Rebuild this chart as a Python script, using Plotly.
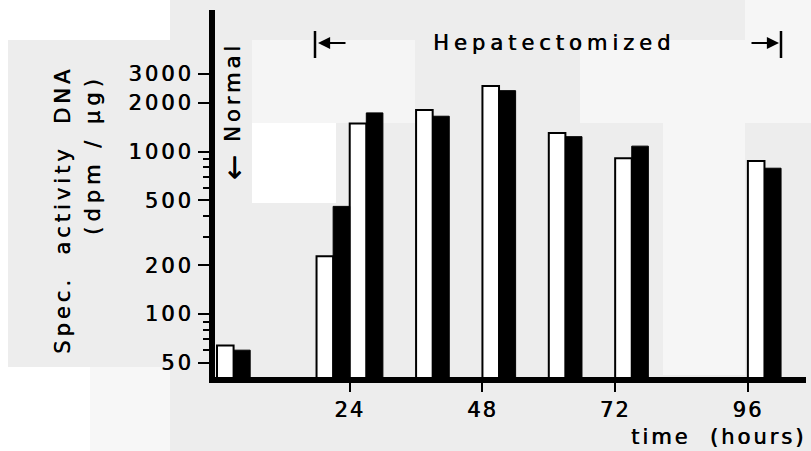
import math
import plotly.graph_objects as go

# ---- data ----
times = [0, 18, 24, 36, 48, 60, 72, 96]          # hours
white_vals = [64, 227, 1490, 1800, 2530, 1300, 910, 875]
black_vals = [60, 460, 1730, 1650, 2370, 1235, 1080, 790]

y_major = [50, 100, 200, 500, 1000, 2000, 3000]
y_major_text = ["50", "100", "200", "500", "1000", "2000", "3000"]
y_minor = [60, 70, 80, 90, 300, 400, 600, 700, 800, 900]
x_ticks = [24, 48, 72, 96]
x_tick_text = ["24", "48", "72", "96"]

FONT = "DejaVu Sans"
SHADOW = "0.6px 0px 0px black"
L, R, T, B = 215, 5, 10, 74
W, H = 811, 451
PW, PH = W - L - R, H - T - B


def sp(text, px):
    return f'<span style="letter-spacing:{px}px">{text}</span>'


def px_x(p):
    return (p - L) / PW


def px_y(p):
    return (H - B - p) / PH


def hour(p):
    return (p - 217) / 5.53


def fnt(size):
    return dict(family=FONT, size=size, color="black", shadow=SHADOW)


fig = go.Figure()
fig.add_trace(go.Bar(
    x=times, y=white_vals, offset=0, width=3,
    marker=dict(color="white", line=dict(color="black", width=2)),
    showlegend=False, hoverinfo="x+y"))
fig.add_trace(go.Bar(
    x=times, y=black_vals, offset=3, width=3,
    marker=dict(color="black", line=dict(color="black", width=1)),
    showlegend=False, hoverinfo="x+y"))

fig.update_layout(
    width=W, height=H,
    margin=dict(l=L, r=R, t=T, b=B),
    paper_bgcolor="#ededed", plot_bgcolor="rgba(0,0,0,0)",
    barmode="overlay",
    font=fnt(20),
    xaxis=dict(
        range=[hour(L), hour(W - R)], tickmode="array", tickvals=x_ticks,
        ticktext=[sp(t, 2) for t in x_tick_text],
        ticks="outside", ticklen=9, tickwidth=2, tickcolor="black",
        showline=True, linewidth=6, linecolor="black",
        showgrid=False, zeroline=False,
        tickfont=fnt(21)),
    yaxis=dict(
        type="log", range=[1.613, 3.871],
        tickmode="array", tickvals=y_major,
        ticktext=[sp(t, 3) for t in y_major_text],
        ticks="outside", ticklen=11, tickwidth=2, tickcolor="black",
        minor=dict(tickmode="array", tickvals=y_minor, ticks="outside",
                   ticklen=6, tickwidth=2, tickcolor="black"),
        showline=True, linewidth=6, linecolor="black",
        showgrid=False, zeroline=False,
        tickfont=fnt(21)),
)

# background scan patches (pixel boxes)
patches = [
    (0, 0, 170, 40, "white"),
    (0, 0, 8, 451, "white"),
    (0, 367, 90, 451, "white"),
    (90, 367, 170, 451, "#f7f7f7"),
    (252, 40, 415, 123, "#f5f5f5"),
    (252, 123, 336, 203, "white"),
    (580, 40, 745, 123, "#f6f6f6"),
    (663, 123, 745, 375, "#f6f6f6"),
    (745, 0, 811, 123, "#f6f6f6"),
]
for x0, y0, x1, y1, c in patches:
    fig.add_shape(type="rect", xref="paper", yref="paper",
                  x0=px_x(x0), x1=px_x(x1), y0=px_y(y1), y1=px_y(y0),
                  fillcolor=c, line_width=0, layer="below")

# bracket bars of the "Hepatectomized" span
for bx in (315, 781):
    fig.add_shape(type="line", xref="x", yref="paper",
                  x0=hour(bx), x1=hour(bx), y0=px_y(58), y1=px_y(31),
                  line=dict(color="black", width=2.5))

ya = px_y(43)
ann = [
    dict(text=sp("Hepatectomized", 5), x=hour(554), y=ya, xref="x", yref="paper",
         xanchor="center", yanchor="middle", showarrow=False, font=fnt(21)),
    dict(text="", x=hour(318), y=ya, xref="x", yref="paper",
         ax=29, ay=0, showarrow=True, arrowhead=2, arrowsize=1.1,
         arrowwidth=2.2, arrowcolor="black"),
    dict(text="", x=hour(779), y=ya, xref="x", yref="paper",
         ax=-29, ay=0, showarrow=True, arrowhead=2, arrowsize=1.1,
         arrowwidth=2.2, arrowcolor="black"),
    dict(text=sp("Normal", 4), x=hour(233), y=px_y(92), xref="x", yref="paper",
         xanchor="center", yanchor="middle",
         textangle=-90, showarrow=False, font=fnt(21)),
    dict(text="←", x=hour(233), y=px_y(168), xref="x", yref="paper",
         xanchor="center", yanchor="middle",
         textangle=-90, showarrow=False, font=fnt(30)),
    dict(text=sp("Spec.  activity  DNA", 4), x=px_x(63), y=px_y(210),
         xref="paper", yref="paper", xanchor="center", yanchor="middle",
         textangle=-90, showarrow=False, font=fnt(21)),
    dict(text=sp("(dpm / µg)", 5), x=px_x(93), y=px_y(155),
         xref="paper", yref="paper", xanchor="center", yanchor="middle",
         textangle=-90, showarrow=False, font=fnt(21)),
    dict(text=sp("time  (hours)", 3), x=px_x(808), y=px_y(437),
         xref="paper", yref="paper", xanchor="right", yanchor="middle",
         showarrow=False, font=fnt(21)),
]
fig.update_layout(annotations=ann)

fig.write_html("out.html",
               config={"displayModeBar": False},
               post_script="document.body.style.margin='0';")
